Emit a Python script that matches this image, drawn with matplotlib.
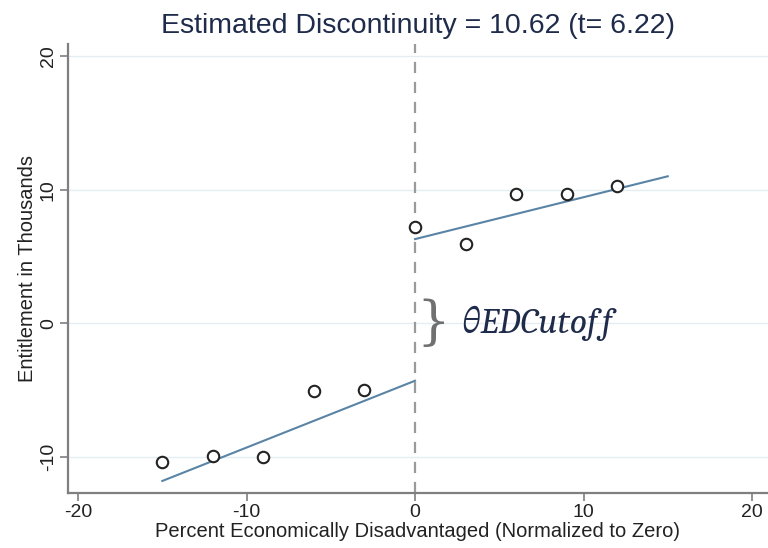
import numpy as np
import matplotlib
matplotlib.use("Agg")
import matplotlib.pyplot as plt

plt.rcParams["font.family"] = ["Liberation Sans", "DejaVu Sans"]

# binned means
bin_x = [-15, -12, -9, -6, -3, 0, 3, 6, 9, 12]
bin_y = [-10.4, -9.9, -10.0, -5.1, -5.0, 7.2, 5.9, 9.7, 9.7, 10.3]

# fitted lines on each side of the cutoff
left_x = [-15, 0]
left_y = [-11.8, -4.3]
right_x = [0, 15]
right_y = [6.3, 11.0]

x_ticks = [-20, -10, 0, 10, 20]
y_ticks = [-10, 0, 10, 20]

TITLE = "Estimated Discontinuity = 10.62 (t= 6.22)"
XLABEL = "Percent Economically Disadvantaged (Normalized to Zero)"
YLABEL = "Entitlement in Thousands"
JUMP_LABEL = "θEDCutof\u2009f"

LINE_COLOR = "#5a84a6"
TEXT_COLOR = "#1e2b4a"
AXIS_COLOR = "#7f7f7f"
GRID_COLOR = "#e3eef2"

fig = plt.figure(figsize=(7.68, 5.48), dpi=100)
ax = fig.add_axes([0.0885, 0.1004, 0.9115, 0.8193])

for y in y_ticks:
    ax.axhline(y, color=GRID_COLOR, linewidth=1.0, zorder=0)
ax.axvline(0, color="#9a9a9a", linestyle=(0, (5, 4)), linewidth=1.6, zorder=1)

ax.plot(left_x, left_y, color=LINE_COLOR, linewidth=1.5, zorder=2)
ax.plot(right_x, right_y, color=LINE_COLOR, linewidth=1.5, zorder=2)
ax.scatter(bin_x, bin_y, s=68, facecolors="white", edgecolors="#222222",
           linewidths=1.5, zorder=3)

# brace and label for the jump
ax.text(1.1, 0, "}", fontsize=38, color="#707070", family="DejaVu Serif",
        ha="center", va="center", fontweight="light")
ax.text(2.8, 0, JUMP_LABEL, fontsize=26, color=TEXT_COLOR,
        family=["Caladea", "STIX Two Text", "DejaVu Serif"], style="italic",
        ha="left", va="center")

ax.set_xlim(-20.6, 20.95)
ax.set_ylim(-12.7, 20.9)
ax.set_xticks(x_ticks)
ax.set_yticks(y_ticks)
ax.set_xticklabels([str(t) for t in x_ticks])
ax.set_yticklabels([str(t) for t in y_ticks], rotation=90, va="center")

for side in ["top", "right"]:
    ax.spines[side].set_visible(False)
for side in ["left", "bottom"]:
    ax.spines[side].set_color(AXIS_COLOR)
    ax.spines[side].set_linewidth(1.6)
ax.tick_params(axis="both", colors=AXIS_COLOR, length=6, width=1.2,
               labelsize=14, labelcolor="#222222", pad=2)

ax.set_title(TITLE, fontsize=20.5, color=TEXT_COLOR, pad=8)
ax.set_xlabel(XLABEL, fontsize=14.5, color="#222222", labelpad=0.5)
ax.set_ylabel(YLABEL, fontsize=14.5, color="#222222", labelpad=2)

fig.savefig("out.png", dpi=100)
